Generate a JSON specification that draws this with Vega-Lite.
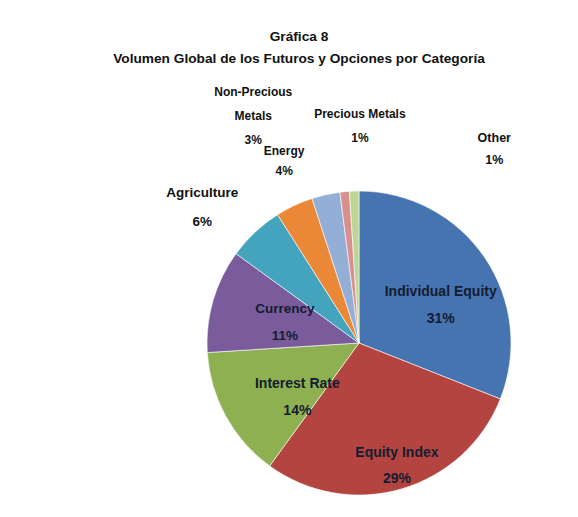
{
  "$schema": "https://vega.github.io/schema/vega-lite/v6.json",
  "width": 438,
  "height": 348,
  "autosize": "none",
  "padding": {"left": 140, "top": 169, "right": 0, "bottom": 0},
  "background": "white",
  "title": {
    "text": ["Gráfica 8", "Volumen Global de los Futuros y Opciones por Categoría"],
    "font": "Liberation Sans",
    "fontSize": 13.7,
    "fontWeight": "bold",
    "color": "#111111",
    "anchor": "middle",
    "frame": "group",
    "dx": -60,
    "offset": 16,
    "lineHeight": 22
  },
  "data": {
    "values": [
      {"category": "Individual Equity", "value": 31, "order": 1, "label": "Individual Equity\n31%"},
      {"category": "Equity Index", "value": 29, "order": 2, "label": "Equity Index\n29%"},
      {"category": "Interest Rate", "value": 14, "order": 3, "label": "Interest Rate\n14%"},
      {"category": "Currency", "value": 11, "order": 4, "label": "Currency\n11%"},
      {"category": "Agriculture", "value": 6, "order": 5, "label": "Agriculture\n6%"},
      {"category": "Energy", "value": 4, "order": 6, "label": "Energy\n4%"},
      {"category": "Non-Precious Metals", "value": 3, "order": 7, "label": "Non-Precious\nMetals\n3%"},
      {"category": "Precious Metals", "value": 1, "order": 8, "label": "Precious Metals\n1%"},
      {"category": "Other", "value": 1, "order": 9, "label": "Other\n1%"}
    ]
  },
  "encoding": {
    "theta": {"field": "value", "type": "quantitative", "stack": true},
    "order": {"field": "order", "type": "quantitative"}
  },
  "layer": [
    {
      "mark": {"type": "arc", "outerRadius": 152, "stroke": "white", "strokeWidth": 0.6},
      "encoding": {
        "color": {
          "field": "category",
          "type": "nominal",
          "legend": null,
          "scale": {
            "domain": ["Individual Equity", "Equity Index", "Interest Rate", "Currency", "Agriculture", "Energy", "Non-Precious Metals", "Precious Metals", "Other"],
            "range": ["#4674B0", "#B4443F", "#8FB050", "#7A5C9C", "#44A3BD", "#EB8838", "#94AFD6", "#D8908F", "#BED695"]
          }
        }
      }
    },
    {
      "mark": {"type": "text", "radius": 100, "dx": -1, "dy": 5, "lineBreak": "\n", "lineHeight": 27, "font": "Liberation Sans", "fontSize": 14, "fontWeight": "bold", "fill": "#141C30", "align": "center", "baseline": "middle"},
      "encoding": {"text": {"condition": {"test": "datum.category == 'Individual Equity'", "field": "label"}, "value": ""}}
    },
    {
      "mark": {"type": "text", "radius": 100, "dx": 10, "dy": 14, "lineBreak": "\n", "lineHeight": 26, "font": "Liberation Sans", "fontSize": 14, "fontWeight": "bold", "fill": "#141C30", "align": "center", "baseline": "middle"},
      "encoding": {"text": {"condition": {"test": "datum.category == 'Equity Index'", "field": "label"}, "value": ""}}
    },
    {
      "mark": {"type": "text", "radius": 100, "dx": 26, "dy": -7, "lineBreak": "\n", "lineHeight": 27, "font": "Liberation Sans", "fontSize": 14, "fontWeight": "bold", "fill": "#141C30", "align": "center", "baseline": "middle"},
      "encoding": {"text": {"condition": {"test": "datum.category == 'Interest Rate'", "field": "label"}, "value": ""}}
    },
    {
      "mark": {"type": "text", "radius": 100, "dx": 22, "dy": -6, "lineBreak": "\n", "lineHeight": 27, "font": "Liberation Sans", "fontSize": 13.5, "fontWeight": "bold", "fill": "#141C30", "align": "center", "baseline": "middle"},
      "encoding": {"text": {"condition": {"test": "datum.category == 'Currency'", "field": "label"}, "value": ""}}
    },
    {
      "mark": {"type": "text", "radius": 150, "dx": -54, "dy": -40.5, "lineBreak": "\n", "lineHeight": 29, "font": "Liberation Sans", "fontSize": 13.5, "fontWeight": "bold", "fill": "#111111", "align": "center", "baseline": "middle"},
      "encoding": {"text": {"condition": {"test": "datum.category == 'Agriculture'", "field": "label"}, "value": ""}}
    },
    {
      "mark": {"type": "text", "radius": 150, "dx": -11, "dy": -56, "lineBreak": "\n", "lineHeight": 20, "font": "Liberation Sans", "fontSize": 12, "fontWeight": "bold", "fill": "#111111", "align": "center", "baseline": "middle"},
      "encoding": {"text": {"condition": {"test": "datum.category == 'Energy'", "field": "label"}, "value": ""}}
    },
    {
      "mark": {"type": "text", "radius": 150, "dx": -73, "dy": -105, "lineBreak": "\n", "lineHeight": 24, "font": "Liberation Sans", "fontSize": 12, "fontWeight": "bold", "fill": "#111111", "align": "center", "baseline": "middle"},
      "encoding": {"text": {"condition": {"test": "datum.category == 'Non-Precious Metals'", "field": "label"}, "value": ""}}
    },
    {
      "mark": {"type": "text", "radius": 150, "dx": 15, "dy": -79.5, "lineBreak": "\n", "lineHeight": 24, "font": "Liberation Sans", "fontSize": 12, "fontWeight": "bold", "fill": "#111111", "align": "center", "baseline": "middle"},
      "encoding": {"text": {"condition": {"test": "datum.category == 'Precious Metals'", "field": "label"}, "value": ""}}
    },
    {
      "mark": {"type": "text", "radius": 150, "dx": 140, "dy": -55, "lineBreak": "\n", "lineHeight": 22, "font": "Liberation Sans", "fontSize": 12.5, "fontWeight": "bold", "fill": "#111111", "align": "center", "baseline": "middle"},
      "encoding": {"text": {"condition": {"test": "datum.category == 'Other'", "field": "label"}, "value": ""}}
    }
  ]
}
